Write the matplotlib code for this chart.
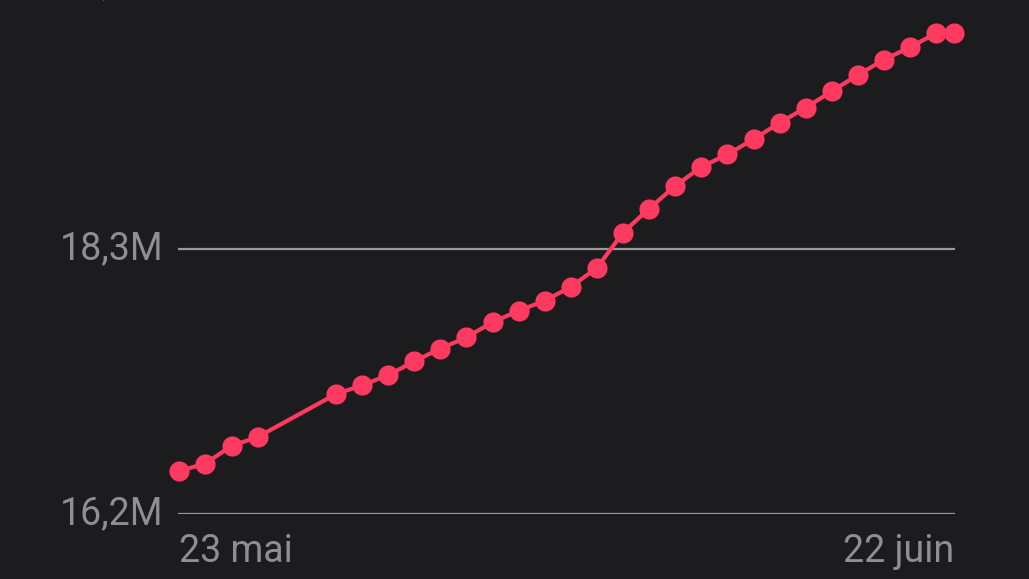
import matplotlib
matplotlib.use('Agg')
import matplotlib.pyplot as plt
import matplotlib.transforms as mtransforms

# day offset from 23 mai (last point is today, partial day)
days = [0, 1, 2, 3, 6, 7, 8, 9, 10, 11, 12, 13, 14, 15, 16,
        17, 18, 19, 20, 21, 22, 23, 24, 25, 26, 27, 28, 29, 29.69]
# values in millions
values = [16.54, 16.60, 16.74, 16.81, 17.15, 17.22, 17.30, 17.41, 17.51, 17.60,
          17.72, 17.81, 17.89, 18.00, 18.15, 18.43, 18.62, 18.80, 18.95, 19.05,
          19.17, 19.30, 19.42, 19.55, 19.68, 19.80, 19.90, 20.01, 20.01]
y_ticks = [16.2, 18.3, 20.4]
y_labels = ['16,2M', '18,3M', '20,4M']
x_labels = ['23 mai', '22 juin']

bg = '#1c1c1e'
pink = '#ff3a60'
grey = '#8e8e93'

plt.rcParams['font.family'] = ['Roboto', 'DejaVu Sans']

fig = plt.figure(figsize=(10.29, 5.79), dpi=100)
fig.patch.set_facecolor(bg)
W, H = 1029, 579
ax = fig.add_axes([178 / W, (H - 514) / H, 777 / W, 514 / H])
ax.set_facecolor(bg)

# y scale: 16.2 at bottom, 2.1M per 265 px
ymax = 16.2 + 514 * 2.1 / 265
ax.set_ylim(16.2, ymax)
ax.set_xlim(-0.05, 29.72)

for t in y_ticks[:2]:
    ax.axhline(t, color='#9a9a9e', lw=1.6, zorder=1)

ax.plot(days, values, color=pink, lw=3, marker='o', markersize=14.5,
        markeredgewidth=0, zorder=3, clip_on=False)

for s in ax.spines.values():
    s.set_visible(False)
ax.set_xticks([])
ax.set_yticks([])

# y labels, centered on gridlines, right aligned left of axis
off = mtransforms.offset_copy(ax.get_yaxis_transform(), fig=fig, x=-15, y=0, units='dots')
for t, lab in zip(y_ticks, y_labels):
    ax.text(0, t, lab, transform=off, ha='right', va='center', color=grey,
            fontsize=27, clip_on=False)

# x labels
xt = mtransforms.blended_transform_factory(ax.transData, fig.transFigure)
ax.text(days[0], (H - 562) / H, x_labels[0], transform=xt, ha='left', va='baseline',
        color=grey, fontsize=27)
ax.text(days[-1], (H - 562) / H, x_labels[1], transform=xt, ha='right', va='baseline',
        color=grey, fontsize=27)

fig.savefig('out.png', dpi=100, facecolor=bg)
